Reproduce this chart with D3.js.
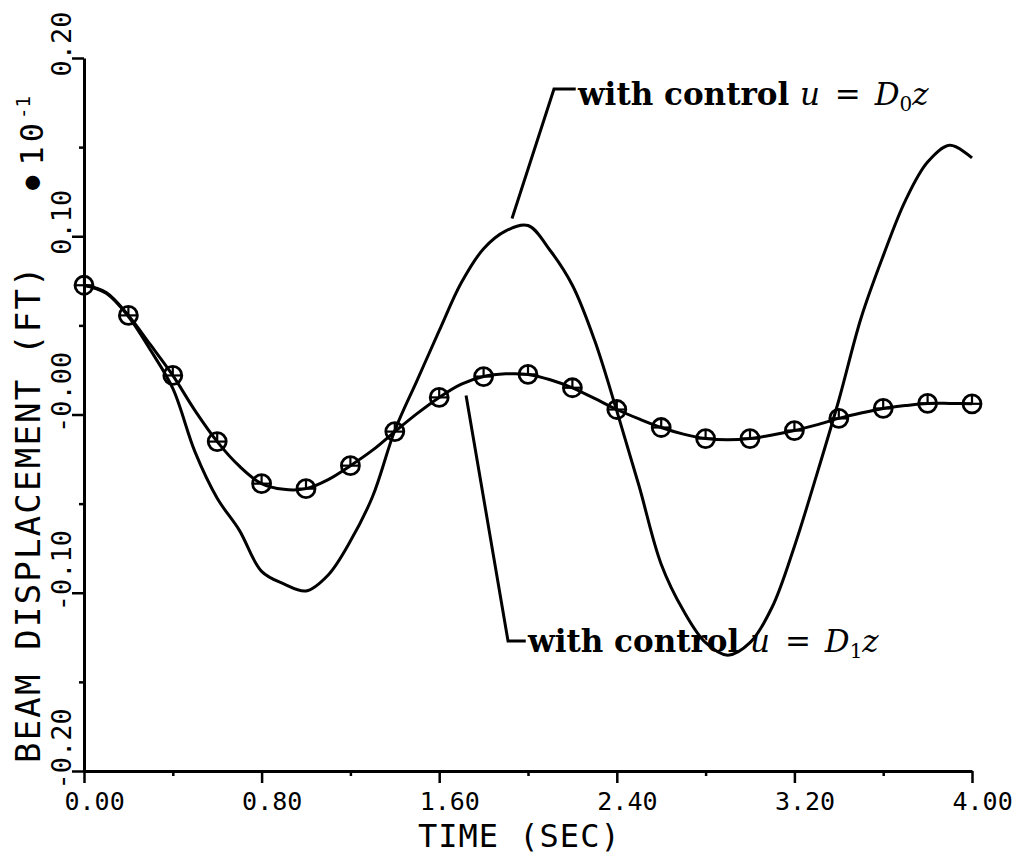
<!DOCTYPE html>
<html>
<head>
<meta charset="utf-8">
<script src="https://cdn.jsdelivr.net/npm/d3@7"></script>
<style>
  html, body { margin: 0; padding: 0; background: #fff; }
  svg { display: block; }
</style>
</head>
<body>
<svg id="chart" width="1032" height="857"></svg>
<script>
// ---------------- data ----------------
const timeGrid = [0.0,0.1,0.2,0.3,0.4,0.5,0.6,0.7,0.8,0.9,1.0,1.1,1.2,1.3,1.4,1.5,1.6,1.7,1.8,1.9,2.0,
                  2.1,2.2,2.3,2.4,2.5,2.6,2.7,2.8,2.9,3.0,3.1,3.2,3.3,3.4,3.5,3.6,3.7,3.8,3.9,4.0];

// beam displacement (ft) with control u = D0 z
const dispD0 = [0.0725,0.068,0.055,0.036,0.0146,-0.021,-0.047,-0.065,-0.088,-0.095,-0.099,
                -0.090,-0.071,-0.046,-0.009,0.019,0.047,0.074,0.093,0.103,0.106,
                0.092,0.0725,0.0416,0.002,-0.040,-0.084,-0.110,-0.128,-0.135,-0.128,
                -0.108,-0.074,-0.034,0.008,0.054,0.089,0.120,0.1416,0.151,0.144];

// beam displacement (ft) with control u = D1 z
const dispD1 = [0.0725,0.0685,0.0556,0.039,0.0219,0.0022,-0.0152,-0.029,-0.0388,-0.042,-0.0416,
                -0.0365,-0.0287,-0.020,-0.0096,0.0005,0.0096,0.017,0.0213,0.0228,0.0225,
                0.0195,0.015,0.009,0.0028,-0.0025,-0.0073,-0.011,-0.0135,-0.0142,-0.0135,
                -0.0115,-0.009,-0.0058,-0.0022,0.0008,0.0034,0.005,0.0062,0.0062,0.006];

const markerEvery = 2;            // circle markers every 0.2 s on the D1 curve

const xMajorTicks = [0, 0.8, 1.6, 2.4, 3.2, 4.0];
const xMinorTicks = [0.4, 1.2, 2.0, 2.8, 3.6];
const xTickLabels = ["0.00", "0.80", "1.60", "2.40", "3.20", "4.00"];
const yMajorTicks = [0.2, 0.1, 0.0, -0.1, -0.2];
const yMinorTicks = [0.15, 0.05, -0.05, -0.15];
const yTickLabels = ["0.20", "0.10", "-0.00", "-0.10", "-0.20"];

const xTitle = "TIME (SEC)";
const yTitle = "BEAM DISPLACEMENT (FT)";

// annotation leaders in data units: [start on curve, corner, text start]
const annD0 = {leader: [[1.928, 0.110], [2.117, 0.1826], [2.215, 0.1826]], text: [2.225, 0.1735], sub: "0"};
const annD1 = {leader: [[1.721, 0.0107], [1.910, -0.127], [1.990, -0.127]], text: [2.000, -0.1335], sub: "1"};

// ---------------- drawing ----------------
const svg = d3.select("#chart");
svg.append("rect").attr("width", 1032).attr("height", 857).attr("fill", "#fff");

const x = d3.scaleLinear().domain([0, 4]).range([84, 972]);
const y = d3.scaleLinear().domain([-0.2, 0.2]).range([771, 58]);

const ink = "#000";
const monoFont = "'DejaVu Sans Mono', monospace";

// X axis
const gx = svg.append("g").attr("transform", `translate(0,${y(-0.2)})`);
gx.call(d3.axisBottom(x).tickValues(xMajorTicks).tickSize(12).tickSizeOuter(0).tickFormat((d, i) => xTickLabels[i]));
gx.append("g").call(d3.axisBottom(x).tickValues(xMinorTicks).tickSize(5).tickSizeOuter(0).tickFormat(""))
  .select(".domain").remove();
gx.selectAll(".domain").attr("stroke", ink).attr("stroke-width", 3);
gx.selectAll(".tick line").attr("stroke", ink).attr("stroke-width", 2.5);
gx.selectAll(".tick text")
  .attr("fill", ink).attr("font-family", monoFont).attr("font-size", 25)
  .attr("text-anchor", "start").attr("x", -20).attr("y", 39).attr("dy", 0);

// Y axis
const gy = svg.append("g").attr("transform", `translate(${x(0)},0)`);
gy.call(d3.axisLeft(y).tickValues(yMajorTicks).tickSize(12).tickSizeOuter(0).tickFormat((d, i) => yTickLabels[i]));
gy.append("g").call(d3.axisLeft(y).tickValues(yMinorTicks).tickSize(5).tickSizeOuter(0).tickFormat(""))
  .select(".domain").remove();
gy.selectAll(".domain").attr("stroke", ink).attr("stroke-width", 3);
gy.selectAll(".tick line").attr("stroke", ink).attr("stroke-width", 2.5);
gy.selectAll(".tick text")
  .attr("fill", ink).attr("font-family", monoFont).attr("font-size", 27)
  .attr("text-anchor", "start").attr("x", 0).attr("y", 0).attr("dy", 0)
  .attr("transform", "translate(-13,18) rotate(-90)");

// Axis titles
svg.append("text")
  .attr("x", 418).attr("y", 847)
  .attr("font-family", monoFont).attr("font-size", 32).attr("letter-spacing", 1).attr("fill", ink)
  .text(xTitle);

svg.append("text")
  .attr("transform", "translate(40,763) rotate(-90)")
  .attr("font-family", monoFont).attr("font-size", 34).attr("letter-spacing", 2.2).attr("fill", ink)
  .text(yTitle);

// scale factor label  •10^-1
const sf = svg.append("text")
  .attr("transform", "translate(43,190) rotate(-90)")
  .attr("font-family", monoFont).attr("fill", ink);
sf.append("tspan").attr("font-size", 24).attr("dy", -4).text("●");
sf.append("tspan").attr("font-size", 32).attr("dy", 4).attr("dx", 10).attr("letter-spacing", 4).text("10");
sf.append("tspan").attr("font-size", 19).attr("dy", -13).text("-1");

// Curves
const ptsD0 = timeGrid.map((t, i) => [t, dispD0[i]]);
const ptsD1 = timeGrid.map((t, i) => [t, dispD1[i]]);
const line = d3.line().x(d => x(d[0])).y(d => y(d[1])).curve(d3.curveCatmullRom.alpha(0.5));

svg.append("path").datum(ptsD0).attr("d", line)
  .attr("fill", "none").attr("stroke", ink).attr("stroke-width", 3).attr("stroke-linejoin", "round");
svg.append("path").datum(ptsD1).attr("d", line)
  .attr("fill", "none").attr("stroke", ink).attr("stroke-width", 3).attr("stroke-linejoin", "round");

// Markers on D1
const r = 9;
const mk = svg.append("g").selectAll("g")
  .data(ptsD1.filter((d, i) => i % markerEvery === 0))
  .join("g")
  .attr("transform", d => `translate(${x(d[0])},${y(d[1])})`);
mk.append("circle").attr("r", r).attr("fill", "none").attr("stroke", ink).attr("stroke-width", 2.8);
mk.append("line").attr("x1", -r).attr("x2", r).attr("y1", 0).attr("y2", 0).attr("stroke", ink).attr("stroke-width", 2.2);
mk.append("line").attr("x1", 0).attr("x2", 0).attr("y1", -r).attr("y2", 0).attr("stroke", ink).attr("stroke-width", 2.2);

// Annotations
const leader = d3.line().x(d => x(d[0])).y(d => y(d[1]));
function annotate(a) {
  svg.append("path").datum(a.leader).attr("d", leader)
    .attr("fill", "none").attr("stroke", ink).attr("stroke-width", 3).attr("stroke-linejoin", "miter");
  const t = svg.append("text")
    .attr("x", x(a.text[0])).attr("y", y(a.text[1]))
    .attr("font-family", "'DejaVu Serif', serif").attr("font-size", 31).attr("fill", ink);
  t.append("tspan").attr("font-weight", "bold").text("with control ");
  t.append("tspan").attr("font-style", "italic").text("u");
  t.append("tspan").attr("dx", 5).text(" = ");
  t.append("tspan").attr("font-style", "italic").attr("dx", 4).text("D");
  t.append("tspan").attr("font-size", 20).attr("dy", 6).text(a.sub);
  t.append("tspan").attr("font-style", "italic").attr("dy", -6).text("z");
}
annotate(annD0);
annotate(annD1);
</script>
</body>
</html>
